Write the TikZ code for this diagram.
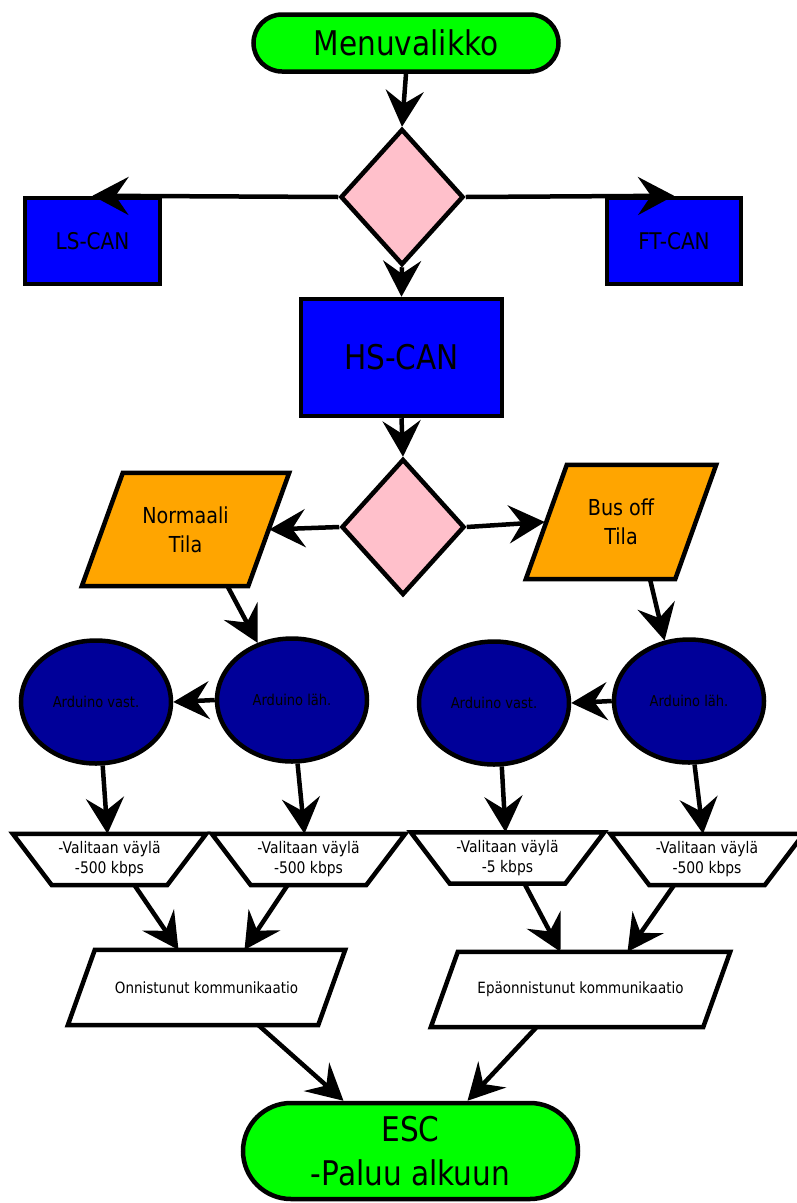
\documentclass[tikz,border=0pt]{standalone}
\usepackage{fontspec}
\setmainfont{DejaVu Sans}[FakeStretch=0.87]
\usetikzlibrary{shapes.geometric,arrows.meta,calc,backgrounds}
\definecolor{cgreen}{RGB}{0,255,0}
\definecolor{cpink}{RGB}{255,192,203}
\definecolor{cblue}{RGB}{0,0,255}
\definecolor{corange}{RGB}{255,165,0}
\definecolor{cnavy}{RGB}{0,0,153}
\newcommand\paragram[3]{% node name, slant, fill colour
  \draw[outline, fill=#3] ($(#1.north west)+(#2,0)$) -- (#1.north east)
    -- ($(#1.south east)+(-#2,0)$) -- (#1.south west) -- cycle;}
\newcommand\manbox[2]{% node name, slant
  \draw[outline, fill=white] (#1.north west) -- (#1.north east)
    -- ($(#1.south east)+(-#2,0)$) -- ($(#1.south west)+(#2,0)$) -- cycle;}
\begin{document}
\begin{tikzpicture}[x=1pt,y=-1pt,
  outline/.style={line width=4.5pt, draw=black},
  every node/.style={inner sep=2pt, align=center},
  shaped/.style={outline},
  term/.style={shaped, rectangle, fill=cgreen, rounded corners=#1},
  dec/.style={shaped, diamond, fill=cpink, minimum width=123pt, minimum height=136pt, inner sep=0pt},
  bluebox/.style={shaped, rectangle, fill=cblue},
  io/.style={rectangle, font=\fontsize{22}{29}\selectfont},
  res/.style={rectangle, font=\fontsize{15.5}{19}\selectfont},
  ard/.style={shaped, ellipse, fill=cnavy, minimum width=150pt, minimum height=123pt, inner sep=0pt, font=\fontsize{15}{18}\selectfont},
  man/.style={rectangle, minimum width=193pt, minimum height=51pt, inner sep=1pt, font=\fontsize{16}{20}\selectfont},
  conn/.style={line width=4.5pt, -{Stealth[length=36pt,width=38pt,inset=13pt]}}
]
\useasboundingbox (0,0) rectangle (797,1203);

\node[term=28.5pt, minimum width=305pt, minimum height=57pt, font=\fontsize{34}{40}\selectfont] (menu) at (406,43) {Menuvalikko};
\node[dec] (d1) at (402,197) {};
\node[bluebox, minimum width=135pt, minimum height=86pt, font=\fontsize{23}{28}\selectfont] (ls) at (92.5,241) {LS-CAN};
\node[bluebox, minimum width=134pt, minimum height=86pt, font=\fontsize{23}{28}\selectfont] (ft) at (674,241) {FT-CAN};
\node[bluebox, minimum width=201pt, minimum height=117pt, font=\fontsize{34}{40}\selectfont] (hs) at (401.5,357.5) {HS-CAN};
\node[dec] (d2) at (403,527) {};
\node[io, minimum width=207pt, minimum height=113pt] (n) at (185.5,529.5) {Normaali\\Tila};
\node[io, minimum width=190pt, minimum height=114pt] (b) at (621,522) {Bus off\\Tila};
\node[ard] (e1) at (96,702) {Arduino vast.};
\node[ard] (e2) at (292,700) {Arduino läh.};
\node[ard] (e3) at (494,703) {Arduino vast.};
\node[ard] (e4) at (689,701) {Arduino läh.};
\node[man] (t1) at (109.5,859.5) {-Valitaan väylä\\-500 kbps};
\node[man] (t2) at (308.5,859.5) {-Valitaan väylä\\-500 kbps};
\node[man] (t3) at (507.5,858) {-Valitaan väylä\\-5 kbps};
\node[man] (t4) at (707,859.5) {-Valitaan väylä\\-500 kbps};
\node[res, minimum width=277pt, minimum height=75pt] (on) at (206.5,987.5) {Onnistunut kommunikaatio};
\node[res, minimum width=299pt, minimum height=75pt] (ep) at (580.5,989.5) {Epäonnistunut kommunikaatio};
\node[term=48pt, minimum width=335pt, minimum height=96pt, font=\fontsize{34}{44}\selectfont] (esc) at (410.5,1151) {ESC\\-Paluu alkuun};

\begin{scope}[on background layer]
  \fill[white] (0,0) rectangle (797,1203);
  \paragram{n}{41}{corange}
  \paragram{b}{41}{corange}
  \paragram{on}{27}{white}
  \paragram{ep}{27}{white}
  \manbox{t1}{39}
  \manbox{t2}{39}
  \manbox{t3}{39}
  \manbox{t4}{39}
\end{scope}

\draw[conn] (menu.south) -- (d1.north);
\draw[conn] (d1.west) -- (ls.north);
\draw[conn] (d1.east) -- (ft.north);
\draw[conn] (d1.south) -- (hs.north);
\draw[conn] (hs.south) -- (d2.north);
\draw[conn] (d2.west) -- ($(n.east)+(-20,0)$);
\draw[conn] (d2.east) -- ($(b.west)+(19,0)$);
\draw[conn] ($(n.south)+(42,0)$) -- (e2.121);
\draw[conn] ($(b.south)+(29,0)$) -- (e4.112);
\draw[conn] (e2.west) -- (e1.east);
\draw[conn] (e4.west) -- (e3.east);
\draw[conn] (e1.-84) -- ($(t1.north)+(-2,0)$);
\draw[conn] (e2.-85) -- ($(t2.north)+(-4,0)$);
\draw[conn] (e3.-83) -- ($(t3.north)+(-2,0)$);
\draw[conn] (e4.-85) -- ($(t4.north)+(-4,0)$);
\draw[conn] ($(t1.south)+(25,0)$) -- ($(on.north)+(-28,0)$);
\draw[conn] ($(t2.south)+(-21,0)$) -- ($(on.north)+(38,0)$);
\draw[conn] ($(t3.south)+(17,0)$) -- ($(ep.north)+(-20,0)$);
\draw[conn] ($(t4.south)+(-33,0)$) -- ($(ep.north)+(47,0)$);
\draw[conn] ($(on.south)+(52,0)$) -- ($(esc.north)+(-67,0)$);
\draw[conn] ($(ep.south)+(-44,0)$) -- ($(esc.north)+(57,0)$);
\end{tikzpicture}
\end{document}
